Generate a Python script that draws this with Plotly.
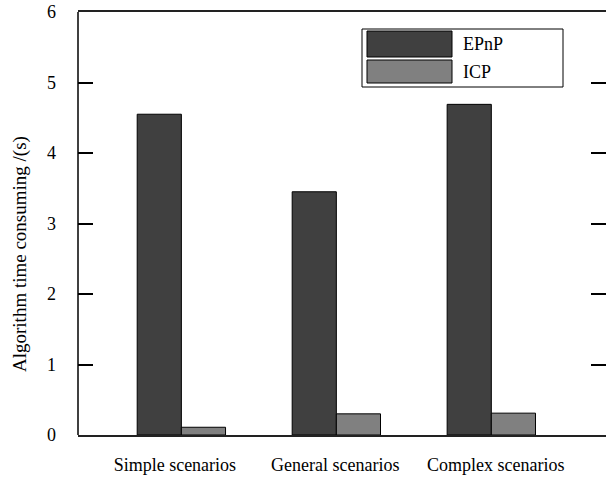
import plotly.graph_objects as go

categories = ["Simple scenarios", "General scenarios", "Complex scenarios"]
series_names = ["EPnP", "ICP"]
epnp_values = [4.55, 3.45, 4.69]
icp_values = [0.11, 0.30, 0.31]
series_colors = ["#404040", "#808080"]
y_ticks = [0, 1, 2, 3, 4, 5, 6]

W, H = 606, 477
L, R, T, B = 78, 0, 12, 42
pw, ph = W - L - R, H - T - B


def px(x):
    return (x - L) / pw


def py(y):
    return (H - B - y) / ph


FONT = "Liberation Serif, Times New Roman, serif"

fig = go.Figure()
for name, vals, col in zip(series_names, [epnp_values, icp_values], series_colors):
    fig.add_trace(go.Bar(x=categories, y=vals, name=name, marker_color=col,
                         marker_line=dict(color="#000000", width=1), showlegend=False))

# invisible trace carrying the category labels on an overlay axis
fig.add_trace(go.Scatter(x=categories, y=[0, 0, 0], xaxis="x2", mode="markers",
                         marker=dict(opacity=0), showlegend=False, hoverinfo="skip"))

fig.update_layout(
    width=W, height=H, autosize=False,
    margin=dict(l=L, r=R, t=T, b=B, pad=0),
    plot_bgcolor="white", paper_bgcolor="white",
    barmode="group", bargap=0.43, bargroupgap=0,
    font=dict(family=FONT, size=18, color="#000000"),
    xaxis=dict(type="category", range=[-0.667, 2.74], showticklabels=False,
               ticks="", showline=True, linecolor="#222222", linewidth=2,
               mirror=True, showgrid=False, zeroline=False),
    xaxis2=dict(type="category", overlaying="x", anchor="y", side="bottom",
                range=[-0.604, 2.688], showline=False, showgrid=False, ticks="",
                zeroline=False, tickfont=dict(family=FONT, size=18, color="#000000"),
                ticklabelstandoff=17),
    yaxis=dict(range=[0, 6], tickvals=y_ticks, ticks="inside", ticklen=15,
               tickwidth=1.5, tickcolor="#000000", showline=False,
               mirror="ticks", showgrid=False, zeroline=False,
               tickfont=dict(family=FONT, size=18, color="#000000"),
               ticklabelstandoff=21),
)

# left axis line only (no right-hand frame line)
fig.add_shape(type="line", xref="paper", yref="paper", x0=0, x1=0, y0=0, y1=1,
              line=dict(color="#000000", width=1.5), layer="above")

# y-axis title
fig.add_annotation(text="Algorithm time consuming /(s)", xref="paper", yref="paper",
                   x=px(20), y=py(254), textangle=-90, showarrow=False,
                   xanchor="center", yanchor="middle",
                   font=dict(family=FONT, size=19, color="#000000"))

# legend drawn as box + swatches + labels
fig.add_shape(type="rect", xref="paper", yref="paper", x0=px(362), x1=px(563),
              y0=py(87), y1=py(29), line=dict(color="#000000", width=1),
              fillcolor="white", layer="above")
sw = [(31, 57), (60, 83)]
for name, col, (y0, y1) in zip(series_names, series_colors, sw):
    fig.add_shape(type="rect", xref="paper", yref="paper", x0=px(367), x1=px(452),
                  y0=py(y1), y1=py(y0), line=dict(color="#000000", width=1),
                  fillcolor=col, layer="above")
    fig.add_annotation(text=name, xref="paper", yref="paper", x=px(461),
                       y=py((y0 + y1) / 2), xanchor="left", yanchor="middle",
                       showarrow=False, font=dict(family=FONT, size=18, color="#000000"))

fig.write_html("out.html")
